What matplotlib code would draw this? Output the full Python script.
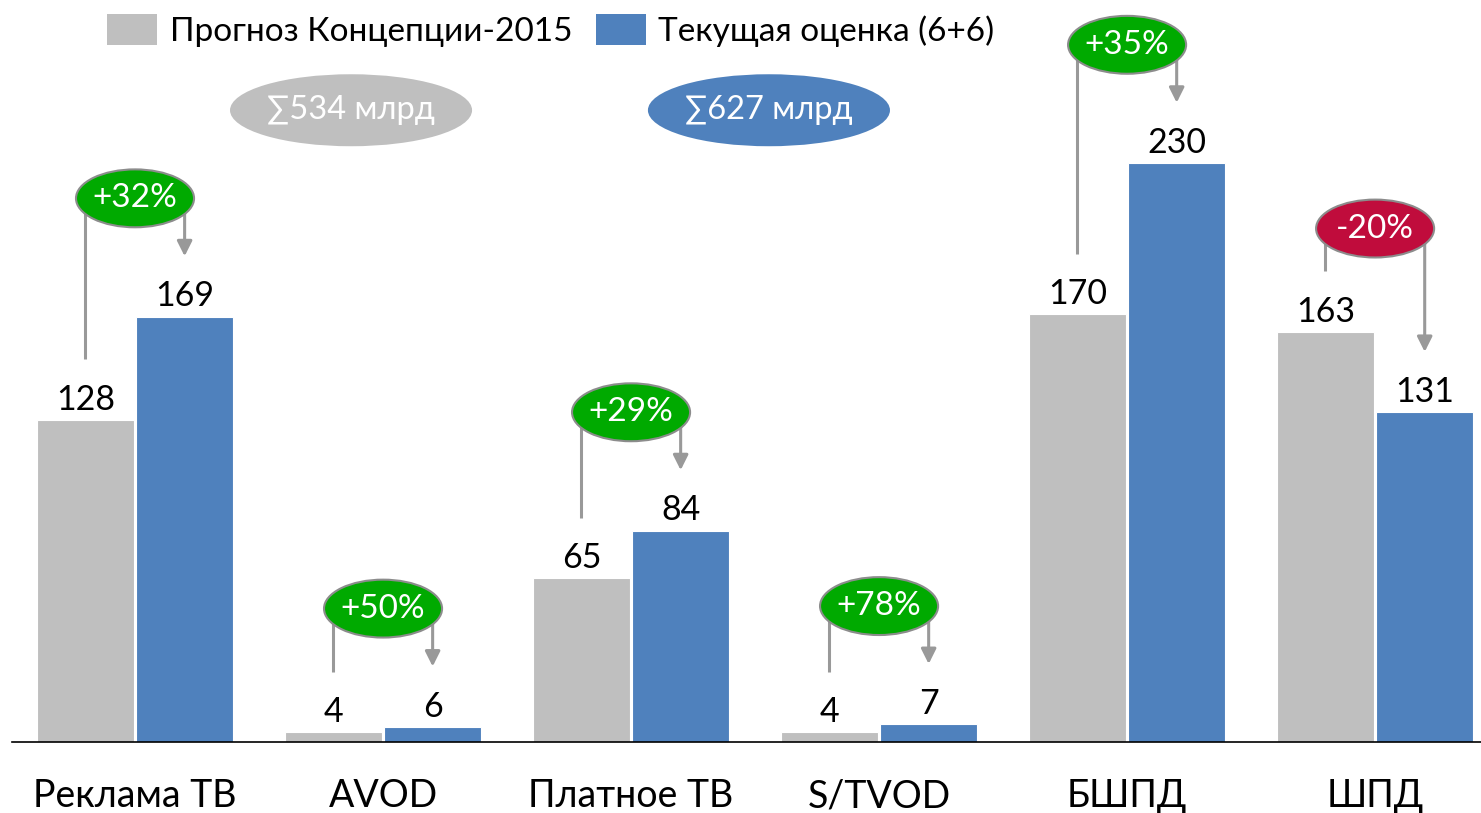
import matplotlib
matplotlib.use('Agg')
import matplotlib.pyplot as plt
from matplotlib.patches import Ellipse, Patch
import numpy as np

plt.rcParams['font.family'] = ['Lato', 'DejaVu Sans']

categories = ['Реклама ТВ', 'AVOD', 'Платное ТВ', 'S/TVOD', 'БШПД', 'ШПД']
forecast = [128, 4, 65, 4, 170, 163]
current = [169, 6, 84, 7, 230, 131]
changes = ['+32%', '+50%', '+29%', '+78%', '+35%', '-20%']
series_names = ['Прогноз Концепции-2015', 'Текущая оценка (6+6)']

gray = '#BFBFBF'
blue = '#4F81BD'
green = '#00AA00'
red = '#C00C3C'
arrow_c = '#999999'

fig = plt.figure(figsize=(14.81, 8.13), dpi=100)
ax = fig.add_axes([12/1481, 71/813, 1 - 12/1481, 742/813])

x = np.arange(len(categories))
w = 0.39
off = 0.2
ax.bar(x - off, forecast, w, color=gray, edgecolor='white', linewidth=0.8, zorder=2)
ax.bar(x + off, current, w, color=blue, edgecolor='white', linewidth=0.8, zorder=2)

ax.set_xlim(-0.496, 5.427)
ax.set_ylim(0, 294.8)
for s in ['top', 'right', 'left']:
    ax.spines[s].set_visible(False)
ax.spines['bottom'].set_color('black')
ax.spines['bottom'].set_linewidth(1.2)
ax.set_yticks([])
ax.set_xticks(x)
ax.set_xticklabels(categories, fontsize=27)
ax.tick_params(axis='x', length=0, pad=26)

lab_fs = 24.5
for i in range(len(categories)):
    ax.annotate(str(forecast[i]), (x[i] - off, forecast[i]), xytext=(0, 3),
                textcoords='offset points', ha='center', va='bottom', fontsize=lab_fs)
    ax.annotate(str(current[i]), (x[i] + off, current[i]), xytext=(0, 3),
                textcoords='offset points', ha='center', va='bottom', fontsize=lab_fs)

    top = max(forecast[i], current[i])
    ey = top + (47 if current[i] >= forecast[i] else 41)
    col = red if changes[i].startswith('-') else green
    ax.add_patch(Ellipse((x[i], ey), 0.476, 23, facecolor=col, edgecolor='#8C8C8C',
                         linewidth=1.5, zorder=5))
    ax.text(x[i], ey, changes[i], ha='center', va='center', color='white',
            fontsize=24, zorder=6)
    # left line down to forecast bar
    ax.plot([x[i] - off, x[i] - off], [ey, forecast[i] + 24], color=arrow_c,
            linewidth=2.2, zorder=4, solid_capstyle='butt')
    # right arrow down to current bar
    ax.annotate('', xy=(x[i] + off, current[i] + 24), xytext=(x[i] + off, ey),
                arrowprops=dict(arrowstyle='-|>,head_length=0.9,head_width=0.45',
                                color=arrow_c, lw=2.2, shrinkA=0, shrinkB=0), zorder=4)

# totals
ax.add_patch(Ellipse((0.871, 251), 0.976, 28.6, facecolor=gray, edgecolor='none', zorder=5))
ax.text(0.871, 251, '∑%d млрд' % sum(forecast), ha='center', va='center', color='white',
        fontsize=23.5, zorder=6)
ax.add_patch(Ellipse((2.556, 251), 0.976, 28.6, facecolor=blue, edgecolor='none', zorder=5))
ax.text(2.556, 251, '∑%d млрд' % sum(current), ha='center', va='center', color='white',
        fontsize=23.5, zorder=6)

handles = [Patch(facecolor=gray), Patch(facecolor=blue)]
fs = 24
fig.legend(handles, series_names, loc='upper left', bbox_to_anchor=(107/1481, 1 - 14/813),
           ncol=2, frameon=False, fontsize=fs, borderpad=0, borderaxespad=0,
           handlelength=50/(fs*100/72), handleheight=35/(fs*100/72),
           handletextpad=0.38, columnspacing=0.7)

fig.savefig('out.png', dpi=100)
